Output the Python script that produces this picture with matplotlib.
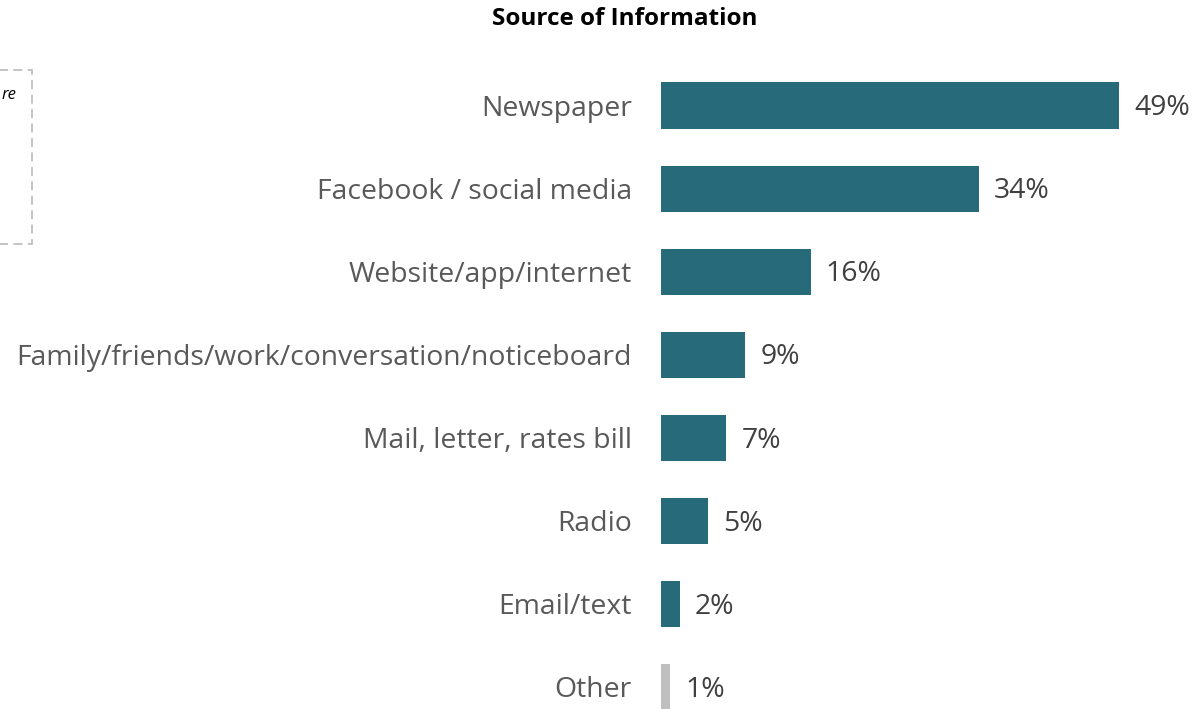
import matplotlib
matplotlib.use("Agg")
import matplotlib.pyplot as plt
from matplotlib.patches import Rectangle

categories = [
    "Newspaper",
    "Facebook / social media",
    "Website/app/internet",
    "Family/friends/work/conversation/noticeboard",
    "Mail, letter, rates bill",
    "Radio",
    "Email/text",
    "Other",
]
values = [49, 34, 16, 9, 7, 5, 2, 1]
value_labels = ["49%", "34%", "16%", "9%", "7%", "5%", "2%", "1%"]
title = "Source of Information"

W, H = 1194, 709
fig = plt.figure(figsize=(W / 100, H / 100), dpi=100)
plt.rcParams["font.family"] = ["Open Sans", "DejaVu Sans"]

ax_left = 661 / W
ax_w = (W - 661) / W
ax_top_px = 64
ax_bot_px = 728.5
ax = fig.add_axes([ax_left, (H - ax_bot_px) / H, ax_w, (ax_bot_px - ax_top_px) / H])

bar_color = "#276A7A"
other_color = "#BFBFBF"
colors = [bar_color] * (len(values) - 1) + [other_color]
y = list(range(len(categories)))
ax.barh(y, values, height=0.555, color=colors)
ax.set_ylim(len(categories) - 0.5, -0.5)
ax.set_xlim(0, (W - 661) / (458 / 49))

ax.set_yticks(y)
ax.set_yticklabels(categories, fontsize=20.4, color="#595959")
ax.tick_params(axis="y", length=0, pad=21)
ax.set_xticks([])
for s in ax.spines.values():
    s.set_visible(False)

for yi, v, lab in zip(y, values, value_labels):
    ax.annotate(lab, (v, yi), xytext=(11, -2), textcoords="offset points",
                ha="left", va="center", fontsize=20.4, color="#404040")

fig.text(625 / W, 1 - 19 / H, title, ha="center", va="center",
         fontsize=17.5, fontweight="bold", color="#000000")

# dashed note box at the left edge
fig.patches.append(Rectangle((-200 / W, 1 - 244 / H), 232 / W, 174 / H,
                             transform=fig.transFigure, fill=False,
                             edgecolor="#BFBFBF", linestyle=(0, (5, 3)),
                             linewidth=1.3))
fig.text(1.5 / W, 1 - 95 / H, "re", ha="left", va="center", fontsize=12,
         style="italic", color="#000000")

fig.savefig("out.png", dpi=100)
